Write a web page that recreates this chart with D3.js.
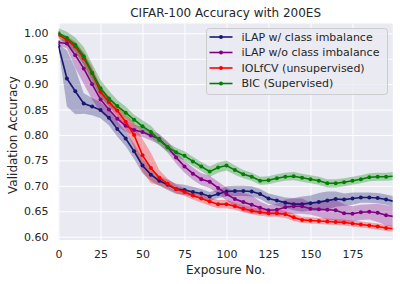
<!DOCTYPE html>
<html>
    <head>
        <meta charset="utf-8">
        <title>CIFAR-100 Accuracy with 200ES</title>
        <script type="text/javascript" src="https://cdnjs.cloudflare.com/ajax/libs/d3/7.8.5/d3.min.js"></script>
        <style>
            body { margin: 0; background: white; }
            text { font-family: "DejaVu Sans", sans-serif; fill: #262626; }
        </style>
    </head>
    <body>
        <script type="text/javascript">

            // Exposure numbers (x values) of every data point
            var exposures = [0, 5, 10, 15, 20, 25, 30, 35, 40, 45, 50, 55, 60, 65, 70, 75, 80, 85, 90, 95,
                             100, 105, 110, 115, 120, 125, 130, 135, 140, 145, 150, 155, 160, 165, 170, 175, 180, 185, 190, 195, 199];

            // Mean accuracy of every method
            var ilapImbalance = [0.975, 0.911, 0.886, 0.862, 0.856, 0.849, 0.834, 0.812, 0.793, 0.768, 0.740, 0.722, 0.710, 0.702, 0.694, 0.692, 0.688, 0.685, 0.679, 0.684,
                                 0.689, 0.690, 0.690, 0.689, 0.684, 0.675, 0.671, 0.667, 0.664, 0.664, 0.666, 0.668, 0.671, 0.674, 0.673, 0.675, 0.677, 0.677, 0.676, 0.673, 0.670];
            var ilapNoImbalance = [0.982, 0.980, 0.957, 0.931, 0.900, 0.870, 0.850, 0.832, 0.818, 0.810, 0.806, 0.799, 0.792, 0.776, 0.756, 0.738, 0.724, 0.713, 0.708, 0.696,
                                   0.684, 0.674, 0.668, 0.663, 0.657, 0.652, 0.653, 0.658, 0.660, 0.660, 0.655, 0.654, 0.653, 0.652, 0.646, 0.645, 0.648, 0.649, 0.647, 0.642, 0.640];
            var iolfcv = [0.997, 0.987, 0.974, 0.951, 0.922, 0.885, 0.865, 0.848, 0.826, 0.800, 0.760, 0.735, 0.716, 0.704, 0.694, 0.688, 0.681, 0.675, 0.669, 0.664,
                          0.664, 0.660, 0.655, 0.651, 0.648, 0.646, 0.646, 0.644, 0.638, 0.633, 0.632, 0.631, 0.630, 0.629, 0.628, 0.626, 0.624, 0.622, 0.620, 0.617, 0.616];
            var bic = [1.000, 0.991, 0.977, 0.955, 0.922, 0.892, 0.872, 0.857, 0.844, 0.830, 0.817, 0.806, 0.790, 0.776, 0.766, 0.759, 0.748, 0.738, 0.728, 0.736,
                       0.740, 0.731, 0.723, 0.718, 0.710, 0.711, 0.715, 0.718, 0.719, 0.716, 0.713, 0.710, 0.705, 0.705, 0.707, 0.710, 0.713, 0.717, 0.718, 0.718, 0.719];

            // Standard deviation (half width of the shaded band) of every method
            var ilapImbalanceStd = [0.005, 0.055, 0.045, 0.020, 0.017, 0.016, 0.015, 0.015, 0.015, 0.015, 0.015, 0.012, 0.010, 0.010, 0.010, 0.010, 0.010, 0.009, 0.009, 0.008,
                                    0.010, 0.010, 0.010, 0.010, 0.010, 0.010, 0.010, 0.010, 0.012, 0.015, 0.015, 0.018, 0.018, 0.015, 0.012, 0.012, 0.010, 0.010, 0.010, 0.010, 0.010];
            var ilapNoImbalanceStd = [0.005, 0.010, 0.025, 0.030, 0.030, 0.025, 0.020, 0.015, 0.012, 0.010, 0.010, 0.010, 0.010, 0.011, 0.012, 0.012, 0.012, 0.012, 0.012, 0.012,
                                      0.013, 0.015, 0.018, 0.018, 0.012, 0.010, 0.012, 0.015, 0.015, 0.015, 0.012, 0.015, 0.020, 0.020, 0.018, 0.015, 0.015, 0.015, 0.018, 0.020, 0.020];
            var iolfcvStd = [0.005, 0.008, 0.010, 0.012, 0.012, 0.012, 0.010, 0.010, 0.015, 0.025, 0.032, 0.030, 0.015, 0.010, 0.008, 0.008, 0.008, 0.008, 0.008, 0.008,
                             0.008, 0.007, 0.007, 0.007, 0.007, 0.007, 0.007, 0.007, 0.007, 0.006, 0.006, 0.006, 0.006, 0.006, 0.006, 0.006, 0.006, 0.006, 0.006, 0.006, 0.006];
            var bicStd = [0.010, 0.012, 0.015, 0.018, 0.018, 0.016, 0.015, 0.012, 0.012, 0.010, 0.012, 0.012, 0.010, 0.009, 0.009, 0.009, 0.009, 0.009, 0.010, 0.010,
                          0.010, 0.009, 0.008, 0.008, 0.008, 0.008, 0.008, 0.008, 0.008, 0.008, 0.008, 0.008, 0.008, 0.008, 0.008, 0.008, 0.008, 0.008, 0.008, 0.008, 0.008];

            var names = ["iLAP w/ class imbalance", "iLAP w/o class imbalance", "IOLfCV (unsupervised)", "BIC (Supervised)"];
            var colors = ["#191970", "#800080", "#ff0000", "#008000"];
            var xTicks = [0, 25, 50, 75, 100, 125, 150, 175];
            var yTicks = [0.60, 0.65, 0.70, 0.75, 0.80, 0.85, 0.90, 0.95, 1.00];

            var series = [
                {name: names[0], color: colors[0], mean: ilapImbalance, std: ilapImbalanceStd},
                {name: names[1], color: colors[1], mean: ilapNoImbalance, std: ilapNoImbalanceStd},
                {name: names[2], color: colors[2], mean: iolfcv, std: iolfcvStd},
                {name: names[3], color: colors[3], mean: bic, std: bicStd}
            ];

            // Dimensions of the svg and the plot area
            var svg_width = 400;
            var svg_height = 284;
            var margin = {top: 23.5, right: 7.2, bottom: 44, left: 58.5};
            var width = svg_width - margin.left - margin.right;
            var height = svg_height - margin.top - margin.bottom;

            var svg = d3.select("body")
                        .append("svg")
                        .attr("width", svg_width)
                        .attr("height", svg_height);

            var xScale = d3.scaleLinear()
                           .domain([0, 199])
                           .range([0, width]);

            var yScale = d3.scaleLinear()
                           .domain([0.5935, 1.0193])
                           .range([height, 0]);

            var plot = svg.append("g")
                          .attr("transform", "translate(" + margin.left + "," + margin.top + ")");

            // Grey background like seaborn darkgrid
            plot.append("rect")
                .attr("width", width)
                .attr("height", height)
                .attr("fill", "#eaeaf2");

            svg.append("clipPath")
               .attr("id", "clip")
               .append("rect")
               .attr("width", width)
               .attr("height", height);

            // Grid lines and tick labels through the axes
            var x_axis = plot.append("g")
                             .attr("transform", "translate(0," + height + ")")
                             .call(d3.axisBottom(xScale).tickValues(xTicks).tickSize(-height).tickPadding(10.5));
            var y_axis = plot.append("g")
                             .call(d3.axisLeft(yScale).tickValues(yTicks).tickFormat(d3.format(".2f")).tickSize(-width).tickPadding(10));

            [x_axis, y_axis].forEach(function(axis) {
                axis.select(".domain").remove();
                axis.selectAll("line").attr("stroke", "white").attr("stroke-width", 1);
                axis.selectAll("text").attr("font-size", "11px").attr("fill", "#262626")
                    .attr("font-family", "DejaVu Sans, sans-serif");
            });

            var lines = plot.append("g").attr("clip-path", "url(#clip)");

            var band = d3.area()
                         .x(function(d, i) { return xScale(exposures[i]); })
                         .y0(function(d) { return yScale(d.m - d.s); })
                         .y1(function(d) { return yScale(d.m + d.s); });

            var line = d3.line()
                         .x(function(d, i) { return xScale(exposures[i]); })
                         .y(function(d) { return yScale(d.m); });

            // Shaded bands first, then lines with markers
            series.forEach(function(s) {
                var pts = s.mean.map(function(m, i) { return {m: m, s: s.std[i]}; });
                lines.append("path")
                     .attr("d", band(pts))
                     .attr("fill", s.color)
                     .attr("opacity", 0.3);
            });

            series.forEach(function(s) {
                var pts = s.mean.map(function(m, i) { return {m: m, s: s.std[i]}; });
                lines.append("path")
                     .attr("d", line(pts))
                     .attr("fill", "none")
                     .attr("stroke", s.color)
                     .attr("stroke-width", 1.6);
                lines.selectAll(null)
                     .data(s.mean.slice(0, s.mean.length - 1))
                     .enter()
                     .append("circle")
                     .attr("cx", function(d, i) { return xScale(exposures[i]); })
                     .attr("cy", function(d) { return yScale(d); })
                     .attr("r", 2)
                     .attr("fill", s.color);
            });

            // Legend
            var legend = svg.append("g").attr("transform", "translate(206.5,28.5)");
            legend.append("rect")
                  .attr("width", 181)
                  .attr("height", 66)
                  .attr("rx", 3)
                  .attr("fill", "#eaeaf2")
                  .attr("fill-opacity", 0.8)
                  .attr("stroke", "#cccccc")
                  .attr("stroke-width", 1);

            var entries = legend.selectAll(".entry")
                                .data(series)
                                .enter()
                                .append("g")
                                .attr("transform", function(d, i) { return "translate(0," + (8.5 + i * 15.5) + ")"; });
            entries.append("line")
                   .attr("x1", 3).attr("x2", 26)
                   .attr("stroke", function(d) { return d.color; })
                   .attr("stroke-width", 1.6);
            entries.append("circle")
                   .attr("cx", 14.5)
                   .attr("r", 2)
                   .attr("fill", function(d) { return d.color; });
            entries.append("text")
                   .attr("x", 35)
                   .attr("dy", "0.35em")
                   .attr("font-size", "11px")
                   .text(function(d) { return d.name; });

            // Title and axis labels
            svg.append("text")
               .attr("x", margin.left + width / 2)
               .attr("y", 17.3)
               .attr("text-anchor", "middle")
               .attr("font-size", "12px")
               .text("CIFAR-100 Accuracy with 200ES");

            svg.append("text")
               .attr("x", margin.left + width / 2)
               .attr("y", 274)
               .attr("text-anchor", "middle")
               .attr("font-size", "12px")
               .text("Exposure No.");

            svg.append("text")
               .attr("transform", "translate(16.5,135) rotate(-90)")
               .attr("text-anchor", "middle")
               .attr("font-size", "12px")
               .text("Validation Accuracy");

        </script>
    </body>
</html>
